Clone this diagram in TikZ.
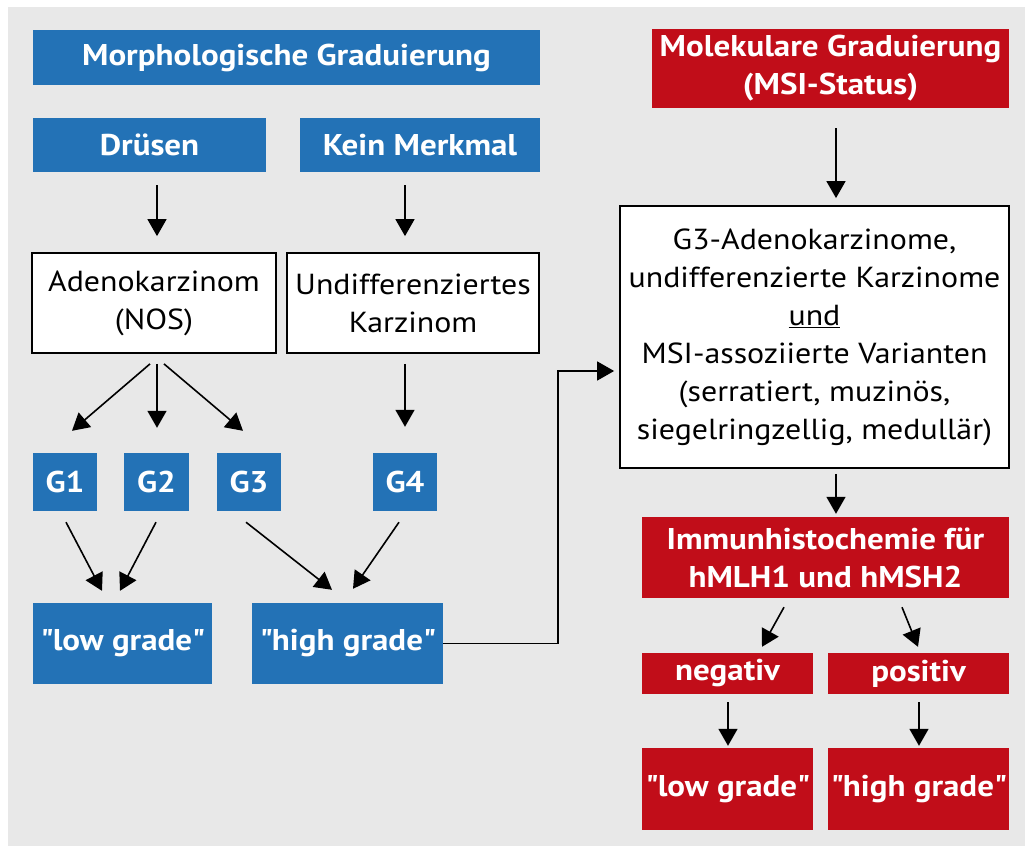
\documentclass[tikz,border=0pt]{standalone}
\usepackage{fontspec}
\setmainfont{PT Sans}[FakeStretch=1.1]
\usetikzlibrary{arrows.meta}
\definecolor{bgray}{HTML}{E8E8E8}
\definecolor{mblue}{HTML}{2372B6}
\definecolor{mred}{HTML}{C10D19}
\newcommand{\qq}{\textquotedbl}
\tikzset{
  base/.style={rectangle, inner sep=0pt, align=center, text=white,
    font=\fontsize{30}{38}\selectfont\bfseries},
  bluebox/.style={base, fill=mblue},
  redbox/.style={base, fill=mred},
  whitebox/.style={rectangle, inner sep=0pt, align=center, fill=white,
    draw=black, line width=1.8pt, font=\fontsize{29}{38}\selectfont},
  arr/.style={draw=black, line width=1.6pt, -{Triangle[width=19pt,length=17pt]}},
}
\begin{document}
\begin{tikzpicture}[x=1pt,y=-1pt]
\useasboundingbox (0,0) rectangle (1025,846);
\fill[white] (0,0) rectangle (1025,846);
\fill[bgray] (8,7) rectangle (1025,846);
% left column
\node[bluebox, minimum width=507pt, minimum height=55pt] (morph) at (286.5,57.5) {Morphologische Graduierung};
\node[bluebox, minimum width=233pt, minimum height=54pt] (druesen) at (149.5,145) {Drüsen};
\node[bluebox, minimum width=240pt, minimum height=54pt] (kein) at (420,145) {Kein Merkmal};
\node[whitebox, minimum width=244pt, minimum height=100pt] (adeno) at (154,303) {Adenokarzinom\\(NOS)};
\node[whitebox, minimum width=252pt, minimum height=100pt] (undiff) at (413,303) {Undifferenziertes\\Karzinom};
\node[bluebox, minimum width=64pt, minimum height=58pt] (g1) at (65,482) {G1};
\node[bluebox, minimum width=65pt, minimum height=58pt] (g2) at (156.5,482) {G2};
\node[bluebox, minimum width=64pt, minimum height=58pt] (g3) at (249,482) {G3};
\node[bluebox, minimum width=64pt, minimum height=58pt] (g4) at (405,482) {G4};
\node[bluebox, minimum width=179pt, minimum height=81pt] (low) at (122.5,643.5) {\qq low grade\qq};
\node[bluebox, minimum width=191pt, minimum height=81pt] (high) at (347.5,643.5) {\qq high grade\qq};
% right column
\node[redbox, minimum width=357pt, minimum height=79pt] (molek) at (830.5,68.5) {Molekulare Graduierung\\(MSI-Status)};
\node[whitebox, minimum width=389pt, minimum height=262pt] (white) at (814.5,337) {G3-Adenokarzinome,\\undifferenzierte Karzinome\\\underline{und}\\MSI-assoziierte Varianten\\(serratiert, muzinös,\\siegelringzellig, medullär)};
\node[redbox, minimum width=367pt, minimum height=81pt] (immun) at (825.5,557.5) {Immunhistochemie für\\hMLH1 und hMSH2};
\node[redbox, minimum width=171pt, minimum height=41pt] (neg) at (727.5,673.5) {negativ};
\node[redbox, minimum width=181pt, minimum height=41pt] (pos) at (918.5,673.5) {positiv};
\node[redbox, minimum width=171pt, minimum height=82pt] (low2) at (727.5,789) {\qq low grade\qq};
\node[redbox, minimum width=181pt, minimum height=82pt] (high2) at (918.5,789) {\qq high grade\qq};
\coordinate (turn) at (558,371);
% arrows
\draw[arr] ([xshift=7.5pt,yshift=-13pt]druesen.south) -- ([xshift=3pt,yshift=16pt]adeno.north);
\draw[arr] ([xshift=-15pt,yshift=-13pt]kein.south) -- ([xshift=-8pt,yshift=16pt]undiff.north);
\draw[arr] ([xshift=-4pt,yshift=-10pt]adeno.south) -- ([xshift=7pt,yshift=22pt]g1.north);
\draw[arr] ([xshift=3pt,yshift=-10pt]adeno.south) -- ([xshift=0.5pt,yshift=25pt]g2.north);
\draw[arr] ([xshift=10pt,yshift=-10pt]adeno.south) -- ([xshift=-6pt,yshift=22pt]g3.north);
\draw[arr] ([xshift=-8pt,yshift=-10pt]undiff.south) -- ([xshift=0pt,yshift=26pt]g4.north);
\draw[arr] ([xshift=1pt,yshift=-11pt]g1.south) -- ([xshift=-20.5pt,yshift=12pt]low.north);
\draw[arr] ([xshift=-0.5pt,yshift=-11pt]g2.south) -- ([xshift=-2.5pt,yshift=12pt]low.north);
\draw[arr] ([xshift=-3pt,yshift=-11pt]g3.south) -- ([xshift=-15.5pt,yshift=13pt]high.north);
\draw[arr] ([xshift=-6pt,yshift=-11pt]g4.south) -- ([xshift=5.5pt,yshift=14pt]high.north);
\draw[arr] (high.east) -| (turn) -- ([xshift=-5pt,yshift=-34pt]white.west);
\draw[arr] ([xshift=5.5pt,yshift=-20pt]molek.south) -- ([xshift=21.5pt,yshift=7pt]white.north);
\draw[arr] ([xshift=21.5pt,yshift=-5pt]white.south) -- ([xshift=10.5pt,yshift=3pt]immun.north);
\draw[arr] ([xshift=-41.5pt,yshift=-9pt]immun.south) -- ([xshift=34.5pt,yshift=6pt]neg.north);
\draw[arr] ([xshift=76.5pt,yshift=-9pt]immun.south) -- ([xshift=-0.5pt,yshift=6pt]pos.north);
\draw[arr] ([xshift=0.5pt,yshift=-8pt]neg.south) -- ([xshift=0.5pt,yshift=2pt]low2.north);
\draw[arr] ([xshift=0.5pt,yshift=-8pt]pos.south) -- ([xshift=0.5pt,yshift=2pt]high2.north);
\end{tikzpicture}
\end{document}
